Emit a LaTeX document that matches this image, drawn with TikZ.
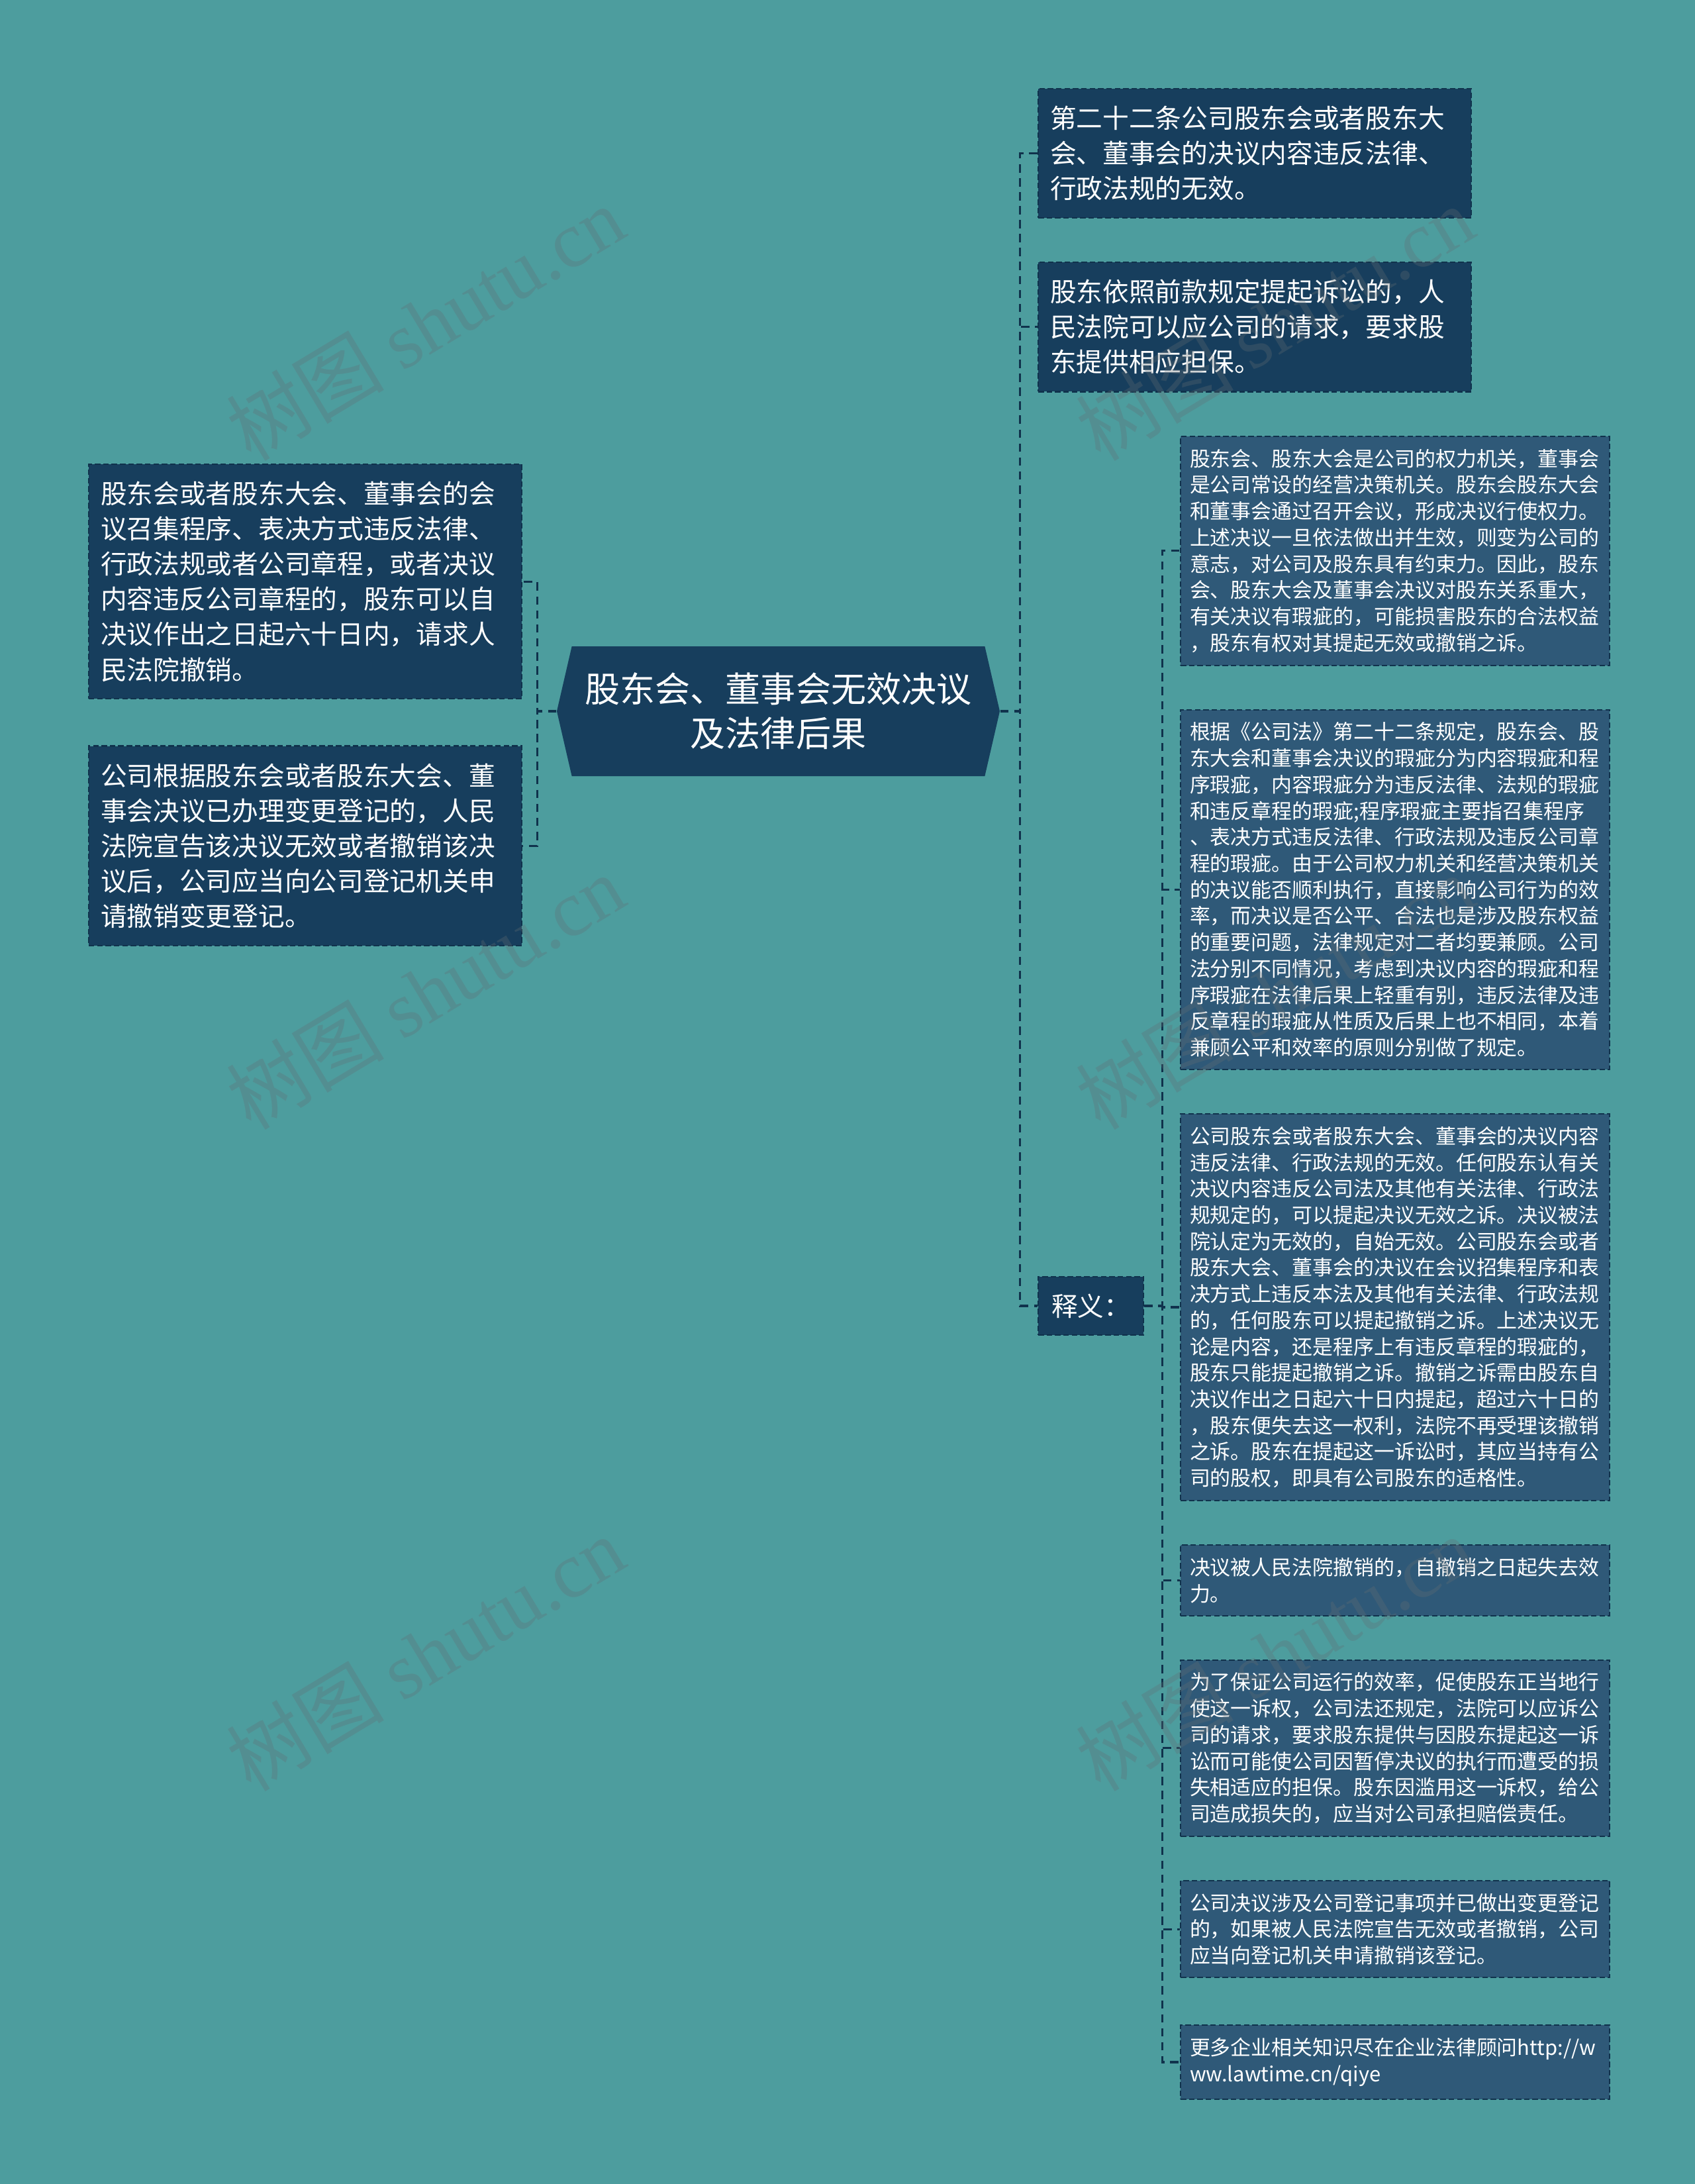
\documentclass[tikz,border=0pt]{standalone}
\usepackage{fontspec}
\setmainfont{Noto Sans CJK SC}
\newfontfamily\wmfont{Liberation Serif}
\usetikzlibrary{positioning, shapes.symbols}

\definecolor{bgteal}{RGB}{77,157,158}
\definecolor{navy}{RGB}{23,62,93}
\definecolor{slate}{RGB}{47,89,120}
\definecolor{edgeblue}{RGB}{16,50,76}
\definecolor{wmgray}{RGB}{100,110,115}

\tikzstyle{topic} = [signal, signal to=west and east, signal pointer angle=154, fill=navy, text=white, minimum width=6.69cm, minimum height=1.96cm, align=center, inner sep=0pt, font=\fontsize{15.1}{19}\selectfont]
\tikzstyle{branch} = [rectangle, draw=edgeblue, dash pattern=on 2.4pt off 1.2pt, line width=0.6pt, fill=navy, text=white, align=left, text width=6.18cm, inner xsep=0.18cm, inner ysep=0.26cm, font=\fontsize{11.3}{15.1}\selectfont]
\tikzstyle{leaf} = [branch, fill=slate, text width=6.2cm, inner xsep=0.14cm, inner ysep=0.19cm, font=\fontsize{8.8}{11.3}\selectfont]
\tikzstyle{link} = [draw=edgeblue, line width=0.9pt, dash pattern=on 3.6pt off 2.4pt]
\tikzstyle{stamp} = [rotate=31, text=wmgray, opacity=0.3, font=\fontsize{34}{34}\selectfont]

\begin{document}
\begin{tikzpicture}[node distance=0.65cm]

\fill [bgteal] (0,0) rectangle (25.6,-32.98);
\useasboundingbox (0,0) rectangle (25.6,-32.98);

\node (root) [topic] at (11.755,-10.74) {股东会、董事会无效决议\\及法律后果};

\node (law1) [branch, anchor=north west] at (15.67,-1.33) {第二十二条公司股东会或者股东大\\会、董事会的决议内容违反法律、\\行政法规的无效。};
\node (law2) [branch, below=of law1] {股东依照前款规定提起诉讼的，人\\民法院可以应公司的请求，要求股\\东提供相应担保。};
\node (note) [branch, anchor=west, text width=1.19cm, inner xsep=0.2cm] at (15.67,-19.72) {释义：};

\node (left1) [branch, anchor=north west] at (1.33,-7.00) {股东会或者股东大会、董事会的会\\议召集程序、表决方式违反法律、\\行政法规或者公司章程，或者决议\\内容违反公司章程的，股东可以自\\决议作出之日起六十日内，请求人\\民法院撤销。};
\node (left2) [branch, below=0.69cm of left1] {公司根据股东会或者股东大会、董\\事会决议已办理变更登记的，人民\\法院宣告该决议无效或者撤销该决\\议后，公司应当向公司登记机关申\\请撤销变更登记。};

\node (expl1) [leaf, anchor=north west] at (17.82,-6.58) {股东会、股东大会是公司的权力机关，董事会\\是公司常设的经营决策机关。股东会股东大会\\和董事会通过召开会议，形成决议行使权力。\\上述决议一旦依法做出并生效，则变为公司的\\意志，对公司及股东具有约束力。因此，股东\\会、股东大会及董事会决议对股东关系重大，\\有关决议有瑕疵的，可能损害股东的合法权益\\，股东有权对其提起无效或撤销之诉。};
\node (expl2) [leaf, below=of expl1] {根据《公司法》第二十二条规定，股东会、股\\东大会和董事会决议的瑕疵分为内容瑕疵和程\\序瑕疵，内容瑕疵分为违反法律、法规的瑕疵\\和违反章程的瑕疵;程序瑕疵主要指召集程序\\、表决方式违反法律、行政法规及违反公司章\\程的瑕疵。由于公司权力机关和经营决策机关\\的决议能否顺利执行，直接影响公司行为的效\\率，而决议是否公平、合法也是涉及股东权益\\的重要问题，法律规定对二者均要兼顾。公司\\法分别不同情况，考虑到决议内容的瑕疵和程\\序瑕疵在法律后果上轻重有别，违反法律及违\\反章程的瑕疵从性质及后果上也不相同，本着\\兼顾公平和效率的原则分别做了规定。};
\node (expl3) [leaf, below=of expl2] {公司股东会或者股东大会、董事会的决议内容\\违反法律、行政法规的无效。任何股东认有关\\决议内容违反公司法及其他有关法律、行政法\\规规定的，可以提起决议无效之诉。决议被法\\院认定为无效的，自始无效。公司股东会或者\\股东大会、董事会的决议在会议招集程序和表\\决方式上违反本法及其他有关法律、行政法规\\的，任何股东可以提起撤销之诉。上述决议无\\论是内容，还是程序上有违反章程的瑕疵的，\\股东只能提起撤销之诉。撤销之诉需由股东自\\决议作出之日起六十日内提起，超过六十日的\\，股东便失去这一权利，法院不再受理该撤销\\之诉。股东在提起这一诉讼时，其应当持有公\\司的股权，即具有公司股东的适格性。};
\node (expl4) [leaf, below=of expl3] {决议被人民法院撤销的，自撤销之日起失去效\\力。};
\node (expl5) [leaf, below=of expl4] {为了保证公司运行的效率，促使股东正当地行\\使这一诉权，公司法还规定，法院可以应诉公\\司的请求，要求股东提供与因股东提起这一诉\\讼而可能使公司因暂停决议的执行而遭受的损\\失相适应的担保。股东因滥用这一诉权，给公\\司造成损失的，应当对公司承担赔偿责任。};
\node (expl6) [leaf, below=of expl5] {公司决议涉及公司登记事项并已做出变更登记\\的，如果被人民法院宣告无效或者撤销，公司\\应当向登记机关申请撤销该登记。};
\node (expl7) [leaf, below=0.7cm of expl6] {更多企业相关知识尽在企业法律顾问http://w\\ww.lawtime.cn/qiye};

\draw [link] (root.east) -- ++(0.3,0) |- (law1.west);
\draw [link] (root.east) -- ++(0.3,0) |- (law2.west);
\draw [link] (root.east) -- ++(0.3,0) |- (note.west);

\draw [link] (root.west) -- ++(-0.29,0) |- (left1.east);
\draw [link] (root.west) -- ++(-0.29,0) |- (left2.east);

\draw [link] (note.east) -- ++(0.27,0) |- (expl1.west);
\draw [link] (note.east) -- ++(0.27,0) |- (expl2.west);
\draw [link] (note.east) -- ++(0.27,0) |- (expl3.west);
\draw [link] (note.east) -- ++(0.27,0) |- (expl4.west);
\draw [link] (note.east) -- ++(0.27,0) |- (expl5.west);
\draw [link] (note.east) -- ++(0.27,0) |- (expl6.west);
\draw [link] (note.east) -- ++(0.27,0) |- (expl7.west);

% watermark
\node (wm1) [stamp] at (6.42,-4.88) {树图 {\wmfont shutu.cn}};
\node (wm2) [stamp] at (6.42,-14.98) {树图 {\wmfont shutu.cn}};
\node (wm3) [stamp] at (6.42,-24.97) {树图 {\wmfont shutu.cn}};
\node (wm4) [stamp] at (19.25,-4.88) {树图 {\wmfont shutu.cn}};
\node (wm5) [stamp] at (19.25,-14.98) {树图 {\wmfont shutu.cn}};
\node (wm6) [stamp] at (19.25,-24.97) {树图 {\wmfont shutu.cn}};

\end{tikzpicture}
\end{document}
